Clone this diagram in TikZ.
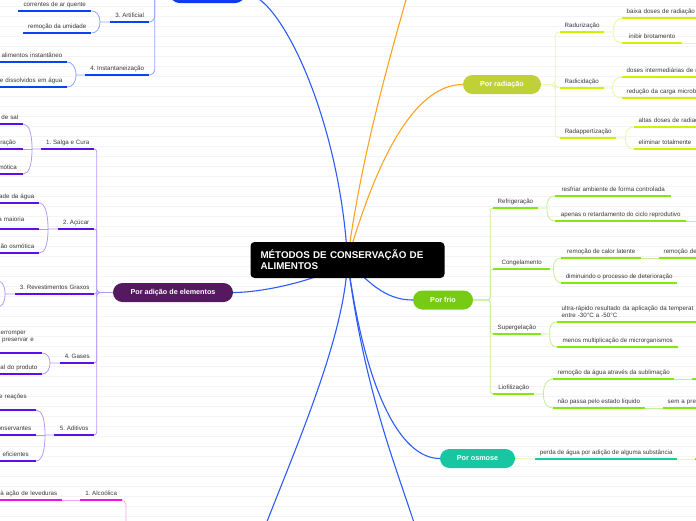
\documentclass[tikz,border=0pt]{standalone}
\usepackage{fontspec}
\setmainfont{Liberation Sans}
\usetikzlibrary{backgrounds,calc}
\definecolor{stripeC}{RGB}{244,244,244}
\definecolor{txtC}{RGB}{58,58,58}
\definecolor{trunkB}{RGB}{45,92,250}
\definecolor{trunkO}{RGB}{255,162,31}
\definecolor{secagC}{RGB}{10,60,245}
\definecolor{adicaoC}{RGB}{84,25,95}
\definecolor{radiaC}{RGB}{191,209,55}
\definecolor{frioC}{RGB}{120,203,21}
\definecolor{osmC}{RGB}{22,199,162}
\definecolor{blueU}{RGB}{11,67,242}
\definecolor{blueC}{RGB}{143,168,248}
\definecolor{violetU}{RGB}{90,15,239}
\definecolor{violetC}{RGB}{182,155,247}
\definecolor{limeU}{RGB}{207,240,0}
\definecolor{limeC}{RGB}{233,247,168}
\definecolor{greenU}{RGB}{132,232,16}
\definecolor{greenC}{RGB}{197,238,150}
\definecolor{tealU}{RGB}{27,199,164}
\definecolor{paleC}{RGB}{238,245,168}
\definecolor{magU}{RGB}{240,18,230}
\definecolor{magC}{RGB}{246,166,241}

\tikzset{
  stripe/.style={draw=stripeC, line width=0.6pt},
  trunk/.style={draw=#1, line width=1.1pt},
  twig/.style={draw=#1, line width=0.8pt},
  pill/.style={fill=#1, rounded corners=9.5pt, minimum height=19pt, inner sep=0pt,
    text=white, font=\bfseries\fontsize{7.2}{8}\selectfont},
  titlebox/.style={fill=black, rounded corners=4pt, text=white, align=left,
    font=\bfseries\fontsize{9.8}{11.2}\selectfont, text width=174pt,
    inner xsep=10pt, minimum height=36pt},
  topic/.style={font=\fontsize{6.2}{7}\selectfont, text=txtC, inner xsep=4.5pt, inner ysep=2.8pt,
    append after command={(\tikzlastnode.south west) edge[draw=#1, line width=2.4pt] (\tikzlastnode.south east)}},
  one/.style={text height=4.6pt, text depth=2pt},
  full/.style={anchor=south west, minimum width=#1},
  cutL/.style={anchor=south east, text width=70pt, align=right},
  cutR/.style={anchor=south west, text width=#1, align=left},
  cutR/.default=110pt,
}

\begin{document}
\begin{tikzpicture}[x=1pt,y=-1pt]
  \useasboundingbox (0,0) rectangle (696,520);

  % centre and main branches
  \node[titlebox] (title) at (347.5,260) {MÉTODOS DE CONSERVAÇÃO DE\\ALIMENTOS};
  \node[pill=secagC, minimum width=75pt] (secag) at (207.5,-6.5) {};
  \node[pill=adicaoC, minimum width=120pt] (adicao) at (173,292.5) {Por adição de elementos};
  \node[pill=radiaC, minimum width=78pt] (radia) at (502,84.5) {Por radiação};
  \node[pill=frioC, minimum width=60pt] (frio) at (443,300) {Por frio};
  \node[pill=osmC, minimum width=75pt] (osmose) at (477.5,458.5) {Por osmose};
  \coordinate (topR) at (413,-25);
  \coordinate (bottomL) at (256,550);
  \coordinate (bottomR) at (421,545);
  \coordinate (fermW) at (126,545);

  % secagem
  \node[topic=blueU, one, full=39pt] (art) at (110,22) {3.\ Artificial};
  \node[topic=blueU, one, full=73pt] (art1) at (18,11) {correntes de ar quente};
  \node[topic=blueU, one, full=68pt] (art2) at (23,33) {remoção da umidade};
  \node[topic=blueU, one, full=64pt] (inst) at (85,75) {4.\ Instantaneização};
  \node[topic=blueU, one, cutL] (inst1) at (67,62) {alimentos instantâneo};
  \node[topic=blueU, one, cutL] (inst2) at (67,87) {e dissolvidos em água};

  % adicao de elementos
  \node[topic=violetU, one, full=53pt] (salga) at (41,149) {1.\ Salga e Cura};
  \node[topic=violetU, one, cutL] (salga1) at (23,124) {de sal};
  \node[topic=violetU, one, cutL] (salga2) at (23,149) {ração\kern2.5pt};
  \node[topic=violetU, one, cutL] (salga3) at (23,174) {mótica\kern1.5pt};
  \node[topic=violetU, one, full=36pt] (acucar) at (58,229) {2.\ Açúcar};
  \node[topic=violetU, one, cutL] (acucar1) at (39,203) {ade da água};
  \node[topic=violetU, cutL, font=\fontsize{6.2}{2.5}\selectfont] (acucar2) at (39,229)
    {a maioria\kern10pt\\\rule[-2pt]{0pt}{0pt}};
  \node[topic=violetU, one, cutL] (acucar3) at (39,253) {ão osmótica};
  \node[topic=violetU, one, full=79pt] (reves) at (15,294) {3.\ Revestimentos Graxos};
  \coordinate (reves1) at (-3,281);
  \coordinate (reves2) at (-3,307);
  \node[topic=violetU, one, full=34pt] (gases) at (60,363) {4.\ Gases};
  \node[topic=violetU, cutL, font=\fontsize{6.2}{7}\selectfont] (gases1) at (42,353)
    {erromper\kern11.5pt\\preservar e\kern3.5pt\\\rule[-2pt]{0pt}{0pt}};
  \node[topic=violetU, one, cutL] (gases2) at (42,374) {al do produto};
  \node[topic=violetU, one, full=40pt] (adit) at (54,435) {5.\ Aditivos};
  \node[topic=violetU, cutL, font=\fontsize{6.2}{7}\selectfont] (adit1) at (36,410)
    {e reações\kern4.5pt\\\rule[-2pt]{0pt}{0pt}};
  \node[topic=violetU, one, cutL] (adit2) at (36,435) {onservantes};
  \node[topic=violetU, one, cutL] (adit3) at (36,461) {eficientes\kern2.5pt};

  % fermentacao
  \node[topic=magU, one, full=42pt] (alc) at (80,500) {1.\ Alcoólica};
  \node[topic=magU, one, cutL] (alc1) at (62,500) {à ação de leveduras};

  % radiacao
  \node[topic=limeU, one, full=43pt] (radu) at (560,32) {Radurização};
  \node[topic=limeU, one, cutR] (radu1) at (622,18) {baixa doses de radiação};
  \node[topic=limeU, one, full=60pt] (radu2) at (622,43) {inibir brotamento};
  \node[topic=limeU, one, full=43pt] (radi) at (560,88) {Radicidação};
  \node[topic=limeU, one, cutR] (radi1) at (622,77) {doses intermediárias de r};
  \node[topic=limeU, one, cutR] (radi2) at (622,98) {redução da carga microbi};
  \node[topic=limeU, one, full=56pt] (rada) at (560,138) {Radappertização};
  \node[topic=limeU, one, cutR] (rada1) at (634,127) {altas doses de radiaç};
  \node[topic=limeU, one, cutR] (rada2) at (634,149) {eliminar totalmente};
  \coordinate (radu2x) at (720,43);

  % frio
  \node[topic=greenU, one, full=44pt] (refr) at (493,208) {Refrigeração};
  \node[topic=greenU, one, full=116pt] (refr1) at (555,196) {resfriar ambiente de forma controlada};
  \node[topic=greenU, one, full=131pt] (refr2) at (555,221) {apenas o retardamento do ciclo reprodutivo};
  \coordinate (refr2x) at (720,221);
  \node[topic=greenU, one, full=57pt] (cong) at (493,269) {Congelamento};
  \node[topic=greenU, one, full=80pt] (cong1) at (561,258) {remoção de calor latente};
  \node[topic=greenU, one, cutR] (cong1b) at (659,258) {remoção de};
  \node[topic=greenU, one, full=116pt] (cong2) at (561,283) {diminuindo o processo de deterioração};
  \node[topic=greenU, one, full=47pt] (superg) at (493,334) {Supergelação};
  \node[topic=greenU, cutR=200pt, font=\fontsize{6.2}{6.2}\selectfont] (superg1) at (557,322)
    {ultra-rápido resultado da aplicação da temperat\\entre -30°C a -50°C\rule[-2pt]{0pt}{0pt}};
  \node[topic=greenU, one, full=121pt] (superg2) at (557,347) {menos multiplicação de microrganismos};
  \node[topic=greenU, one, full=41pt] (liof) at (493,394) {Liofilização};
  \node[topic=greenU, one, full=121pt] (liof1) at (553,379) {remoção da água através da sublimação};
  \node[topic=greenU, one, full=20pt] (liof1b) at (692,379) {};
  \node[topic=greenU, one, full=91pt] (liof2) at (553,408) {não passa pelo estado líquido};
  \node[topic=greenU, one, cutR] (liof2b) at (663,408) {sem a pre};

  % osmose
  \node[topic=tealU, one, full=142pt] (osm1) at (535,459) {perda de água por adição de alguma substância};
  \node[topic=greenU, one, full=20pt] (osm2) at (695,459) {};

  \begin{scope}[on background layer]
    \fill[white] (0,0) rectangle (696,520);
    \foreach \y in {6,16,...,516}
      \draw[stripe] (0,\y) -- (696,\y);

    % main connectors
    \draw[trunk=trunkB] (title.center) .. controls (340,120) and (280,-6.5) .. (secag.east);
    \draw[trunk=trunkB] (title.center) .. controls (335,275) and (270,292.5) .. (adicao.east);
    \draw[trunk=trunkB] (title.center) .. controls (372,288) and (390,300) .. (frio.west);
    \draw[trunk=trunkB] (title.center) .. controls (365,390) and (400,458.5) .. (osmose.west);
    \draw[trunk=trunkB] (title.center) .. controls (365,400) and (402,480) .. (bottomR);
    \draw[trunk=trunkB] (title.center) .. controls (345,340) and (292,455) .. (bottomL);
    \draw[trunk=trunkO] (title.center) .. controls (362,150) and (392,50) .. (topR);
    \draw[trunk=trunkO] (title.center) .. controls (385,130) and (425,84.5) .. (radia.west);

    % secagem
    \draw[twig=blueC, rounded corners=6pt] (secag.west) -- ++(-15,0) |- (art.south east);
    \draw[twig=blueC, rounded corners=6pt] (secag.west) -- ++(-15,0) |- (inst.south east);
    \draw[twig=blueC] (art.south west) -- ++(-10,0) coordinate (jArt)
      .. controls +(0,-7) and +(5,0) .. (art1.south east);
    \draw[twig=blueC] (jArt) .. controls +(0,7) and +(5,0) .. (art2.south east);
    \draw[twig=blueC] (inst.south west) -- ++(-9,0) coordinate (jInst)
      .. controls +(0,-8) and +(5,0) .. (inst1.south east);
    \draw[twig=blueC] (jInst) .. controls +(0,8) and +(5,0) .. (inst2.south east);

    % adicao de elementos
    \foreach \c in {salga,acucar,reves,gases,adit}
      \draw[twig=violetC, rounded corners=3pt] (adicao.west) -- ++(-16,0) |- (\c.south east);
    \draw[twig=violetC] (salga.south west) -- ++(-9,0) coordinate (jSalga)
      .. controls +(0,-16) and +(6,0) .. (salga1.south east);
    \draw[twig=violetC] (jSalga) -- (salga2.south east);
    \draw[twig=violetC] (jSalga) .. controls +(0,16) and +(6,0) .. (salga3.south east);
    \draw[twig=violetC] (acucar.south west) -- ++(-10,0) coordinate (jAcucar)
      .. controls +(0,-16) and +(6,0) .. (acucar1.south east);
    \draw[twig=violetC] (jAcucar) -- (acucar2.south east);
    \draw[twig=violetC] (jAcucar) .. controls +(0,16) and +(6,0) .. (acucar3.south east);
    \draw[twig=violetC] (reves.south west) -- ++(-10,0) coordinate (jReves)
      .. controls +(0,-9) and +(5,0) .. (reves1);
    \draw[twig=violetC] (jReves) .. controls +(0,9) and +(5,0) .. (reves2);
    \draw[twig=violetC] (gases.south west) -- ++(-10,0) coordinate (jGases)
      .. controls +(0,-6) and +(5,0) .. (gases1.south east);
    \draw[twig=violetC] (jGases) .. controls +(0,6) and +(5,0) .. (gases2.south east);
    \draw[twig=violetC] (adit.south west) -- ++(-9,0) coordinate (jAdit)
      .. controls +(0,-16) and +(6,0) .. (adit1.south east);
    \draw[twig=violetC] (jAdit) -- (adit2.south east);
    \draw[twig=violetC] (jAdit) .. controls +(0,16) and +(6,0) .. (adit3.south east);

    % fermentacao
    \draw[twig=magC, rounded corners=5pt] (fermW) |- (alc.south east);
    \draw[twig=magC] (alc.south west) -- (alc1.south east);

    % radiacao
    \foreach \c in {radu,radi,rada}
      \draw[twig=limeC, rounded corners=4pt] (radia.east) -- ++(14,0) |- (\c.south west);
    \draw[twig=limeC] (radu.south east) -- ++(9,0) coordinate (jRadu)
      .. controls +(0,-8) and +(-6,0) .. (radu1.south west);
    \draw[twig=limeC] (jRadu) .. controls +(0,7) and +(-6,0) .. (radu2.south west);
    \draw[twig=limeC] (radu2.south east) -- (radu2x);
    \draw[twig=limeC] (radi.south east) -- ++(9,0) coordinate (jRadi)
      .. controls +(0,-7) and +(-6,0) .. (radi1.south west);
    \draw[twig=limeC] (jRadi) .. controls +(0,7) and +(-6,0) .. (radi2.south west);
    \draw[twig=limeC] (rada.south east) -- ++(9,0) coordinate (jRada)
      .. controls +(0,-7) and +(-6,0) .. (rada1.south west);
    \draw[twig=limeC] (jRada) .. controls +(0,7) and +(-6,0) .. (rada2.south west);

    % frio
    \foreach \c in {refr,cong,superg,liof}
      \draw[twig=greenC, rounded corners=3pt] (frio.east) -- ++(17,0) |- (\c.south west);
    \draw[twig=greenC] (refr.south east) -- ++(9,0) coordinate (jRefr)
      .. controls +(0,-8) and +(-6,0) .. (refr1.south west);
    \draw[twig=greenC] (jRefr) .. controls +(0,8) and +(-6,0) .. (refr2.south west);
    \draw[twig=greenC] (refr2.south east) -- (refr2x);
    \draw[twig=greenC] (cong.south east) -- ++(3,0) coordinate (jCong)
      .. controls +(0,-7) and +(-5,0) .. (cong1.south west);
    \draw[twig=greenC] (jCong) .. controls +(0,7) and +(-5,0) .. (cong2.south west);
    \draw[twig=greenC] (cong1.south east) -- (cong1b.south west);
    \draw[twig=greenC] (superg.south east) -- ++(9,0) coordinate (jSuperg)
      .. controls +(0,-8) and +(-6,0) .. (superg1.south west);
    \draw[twig=greenC] (jSuperg) .. controls +(0,8) and +(-6,0) .. (superg2.south west);
    \draw[twig=greenC] (liof.south east) -- ++(9,0) coordinate (jLiof)
      .. controls +(0,-9) and +(-6,0) .. (liof1.south west);
    \draw[twig=greenC] (jLiof) .. controls +(0,9) and +(-6,0) .. (liof2.south west);
    \draw[twig=greenC] (liof1.south east) -- (liof1b.south west);
    \draw[twig=greenC] (liof2.south east) -- (liof2b.south west);

    % osmose
    \draw[twig=paleC] (osmose.east) -- (osm1.south west);
    \draw[twig=paleC] (osm1.south east) -- (osm2.south west);
  \end{scope}
\end{tikzpicture}
\end{document}
